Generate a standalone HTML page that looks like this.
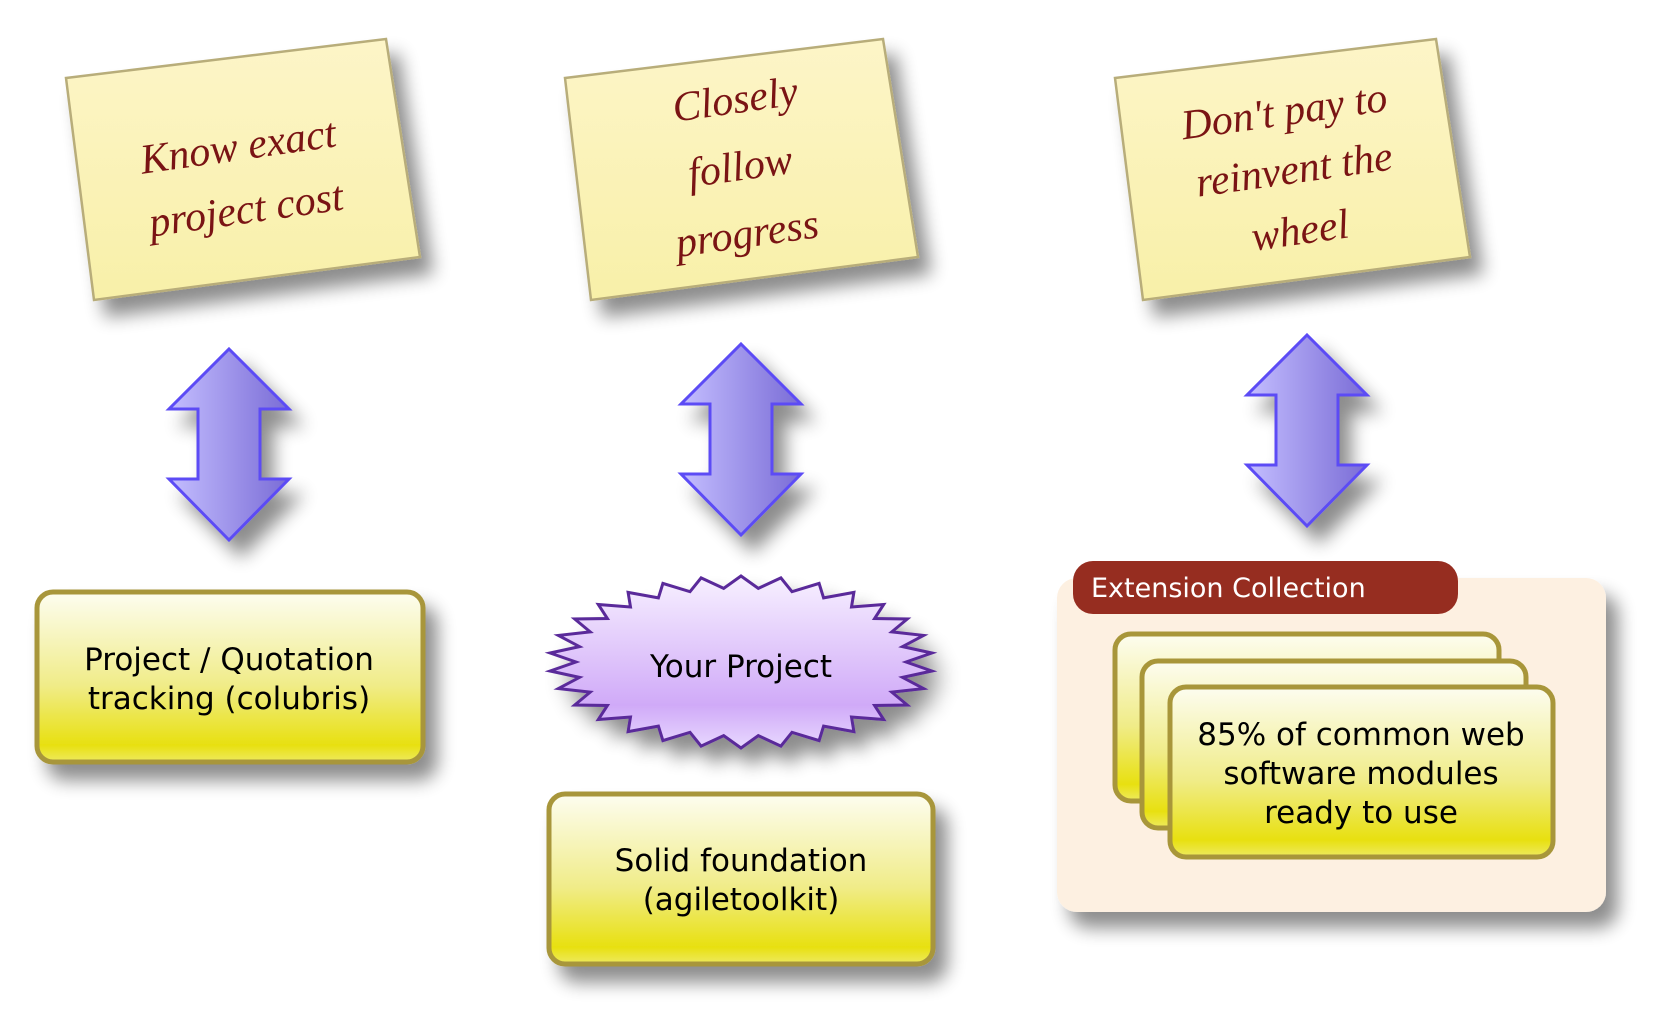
<!DOCTYPE html>
<html><head><meta charset="utf-8"><style>
html,body{margin:0;padding:0;background:#fff;width:1671px;height:1032px;overflow:hidden}
svg{display:block}
.hw{font-family:"Liberation Serif",serif;font-style:italic;fill:#7a1414;font-size:42px}
.bt{font-family:"DejaVu Sans","Liberation Sans",sans-serif;font-size:31px;fill:#000;text-anchor:middle}
</style></head><body>
<svg id="s" width="1671" height="1032" viewBox="0 0 1671 1032" xmlns="http://www.w3.org/2000/svg">
<defs>
<filter id="sh" x="-20%" y="-20%" width="150%" height="160%"><feGaussianBlur in="SourceAlpha" stdDeviation="9"/><feOffset dx="12" dy="16"/><feComponentTransfer><feFuncA type="linear" slope="0.45"/></feComponentTransfer><feMerge><feMergeNode/><feMergeNode in="SourceGraphic"/></feMerge></filter>
<linearGradient id="note" x1="0" y1="0" x2="0" y2="1"><stop offset="0" stop-color="#fdf5c8"/><stop offset="1" stop-color="#f8f0a8"/></linearGradient>
<linearGradient id="box" x1="0" y1="0" x2="0" y2="1"><stop offset="0" stop-color="#fdfdf0"/><stop offset="0.55" stop-color="#f0ec88"/><stop offset="0.9" stop-color="#e8e010"/><stop offset="1" stop-color="#eeea60"/></linearGradient>
<linearGradient id="arr" x1="0" y1="0" x2="1" y2="0"><stop offset="0" stop-color="#c4beff"/><stop offset="1" stop-color="#7a6cd6"/></linearGradient>
<linearGradient id="star" x1="0" y1="0" x2="0" y2="1"><stop offset="0" stop-color="#f7f0ff"/><stop offset="0.75" stop-color="#d0aaf8"/><stop offset="1" stop-color="#e8d8ff"/></linearGradient>
</defs>

<g filter="url(#sh)" stroke="#b8ad7a" stroke-width="2.5" fill="url(#note)">
<polygon points="66,78 386,39 420,257 94,300"/>
<polygon points="565,78 883,39 918,257 591,300"/>
<polygon points="1115,78 1436,39 1470,257 1143,300"/>
</g>
<text class="hw" transform="translate(240,160) rotate(-8)" text-anchor="middle">Know exact</text>
<text class="hw" transform="translate(248,223) rotate(-8)" text-anchor="middle">project cost</text>
<text class="hw" transform="translate(737,113) rotate(-8)" text-anchor="middle">Closely</text>
<text class="hw" transform="translate(742,180) rotate(-8)" text-anchor="middle">follow</text>
<text class="hw" transform="translate(749,247) rotate(-8)" text-anchor="middle">progress</text>
<text class="hw" transform="translate(1286,125) rotate(-8)" text-anchor="middle">Don't pay to</text>
<text class="hw" transform="translate(1296,183) rotate(-8)" text-anchor="middle">reinvent the</text>
<text class="hw" transform="translate(1302,244) rotate(-8)" text-anchor="middle">wheel</text>

<g filter="url(#sh)" fill="url(#arr)" stroke="#5b4cf5" stroke-width="3" stroke-linejoin="miter">
<polygon points="229,349 289,409 260,409 260,479 289,479 229,540 169,479 198,479 198,409 169,409"/>
<polygon points="741,344 801,404 772,404 772,474 801,474 741,535 681,474 710,474 710,404 681,404"/>
<polygon points="1307,335 1367,395 1338,395 1338,465 1367,465 1307,526 1247,465 1276,465 1276,395 1247,395"/>
</g>

<g filter="url(#sh)">
<rect x="37" y="592" width="386" height="170" rx="16" fill="url(#box)" stroke="#a8963a" stroke-width="5"/>
<rect x="549" y="794" width="384" height="170" rx="16" fill="url(#box)" stroke="#a8963a" stroke-width="5"/>
<polygon id="starp" fill="url(#star)" stroke="#5a2a9a" stroke-width="3"/>
<rect x="1057" y="578" width="549" height="334" rx="20" fill="#fdf0e1"/>
</g>
<text class="bt" x="229" y="670">Project / Quotation</text>
<text class="bt" x="229" y="709">tracking (colubris)</text>
<text class="bt" x="741" y="871">Solid foundation</text>
<text class="bt" x="741" y="910">(agiletoolkit)</text>
<text class="bt" x="741" y="677">Your Project</text>

<rect x="1073" y="561" width="385" height="53" rx="20" fill="#962d20"/>
<text x="1091" y="597" font-family="DejaVu Sans,Liberation Sans,sans-serif" font-size="27" fill="#fff">Extension Collection</text>
<rect x="1115" y="634" width="384" height="167" rx="16" fill="url(#box)" stroke="#a8963a" stroke-width="5"/>
<rect x="1142" y="661" width="384" height="167" rx="16" fill="url(#box)" stroke="#a8963a" stroke-width="5"/>
<rect x="1170" y="687" width="383" height="170" rx="16" fill="url(#box)" stroke="#a8963a" stroke-width="5"/>
<text class="bt" x="1361" y="745">85% of common web</text>
<text class="bt" x="1361" y="784">software modules</text>
<text class="bt" x="1361" y="823">ready to use</text>
</svg>
<script>
var p=[],n=30,cx=741,cy=662,rx=192,ry=86;
for(var i=0;i<2*n;i++){var a=Math.PI*i/n-Math.PI/2,r=(i%2==0)?1:0.86;p.push((cx+rx*r*Math.cos(a)).toFixed(1)+","+(cy+ry*r*Math.sin(a)).toFixed(1));}
document.getElementById("starp").setAttribute("points",p.join(" "));
</script>
</body></html>
